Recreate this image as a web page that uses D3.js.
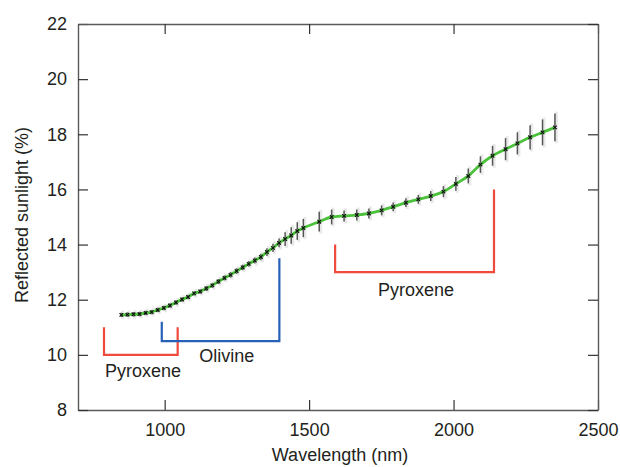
<!DOCTYPE html>
<html>
<head>
<meta charset="utf-8">
<script src="https://cdn.jsdelivr.net/npm/d3@7"></script>
<style>
  body { margin: 0; background: #fff; }
  svg text { font-family: "Liberation Sans", Arial, Helvetica, sans-serif; fill: #231f20; }
</style>
</head>
<body>
<div class="chart"></div>
<script>
// spectrum (nm, % reflected) with 1-sigma error bars
const wavelengths = [850, 871, 892, 913, 934, 955, 976, 997, 1018, 1039, 1060, 1081, 1102, 1123, 1144, 1165,
  1186, 1207, 1228, 1249, 1270, 1291, 1312, 1333, 1354, 1375, 1396, 1417, 1438, 1459, 1480,
  1535, 1578, 1621, 1665, 1707, 1751, 1791, 1835, 1878, 1921, 1965, 2008, 2051, 2093, 2135, 2180, 2221, 2265, 2308, 2351];
const reflectance = [11.45, 11.46, 11.47, 11.48, 11.52, 11.55, 11.63, 11.70, 11.79, 11.90, 12.01, 12.10, 12.23, 12.30, 12.41, 12.52,
  12.66, 12.79, 12.90, 13.04, 13.17, 13.30, 13.42, 13.55, 13.73, 13.88, 14.06, 14.20, 14.33, 14.49, 14.60,
  14.83, 15.00, 15.04, 15.07, 15.13, 15.24, 15.37, 15.52, 15.64, 15.76, 15.92, 16.20, 16.49, 16.90, 17.22, 17.46, 17.67, 17.89, 18.07, 18.25];
const errors = [0.08, 0.08, 0.08, 0.08, 0.08, 0.08, 0.08, 0.08, 0.08, 0.08, 0.08, 0.08, 0.08, 0.08, 0.09, 0.09,
  0.09, 0.09, 0.1, 0.1, 0.1, 0.1, 0.11, 0.12, 0.14, 0.15, 0.16, 0.25, 0.3, 0.32, 0.33,
  0.36, 0.27, 0.2, 0.2, 0.18, 0.18, 0.16, 0.16, 0.16, 0.18, 0.2, 0.25, 0.27, 0.3, 0.36, 0.4, 0.4, 0.44, 0.47, 0.5];

const xTicks = [1000, 1500, 2000, 2500];
const yTicks = [8, 10, 12, 14, 16, 18, 20, 22];

// absorption band brackets: [start nm, end nm, bottom %, left top %, right top %]
const bandNames = ['Pyroxene', 'Olivine', 'Pyroxene'];
const bandColors = ['#f04a3c', '#2660b8', '#f04a3c'];
const bandRanges = [[790, 1045, 10, 11, 11], [990, 1397, 10.5, 11.2, 13.5], [1590, 2140, 13, 14, 16]];
const bandLabelAt = [[925, 9.2], [1215, 9.74], [1870, 12.15]];

const width = 620, height = 467;
const margin = { top: 24, right: 22, bottom: 57, left: 78 };

const svg = d3.select('div.chart').append('svg').attr('width', width).attr('height', height);

const x = d3.scaleLinear().domain([700, 2500]).range([margin.left, width - margin.right]);
const y = d3.scaleLinear().domain([8, 22]).range([height - margin.bottom, margin.top]);

const tickLen = 10;
const frameColor = '#5a5a5a';
const fontSize = '18px';

// axes with inward ticks, mirrored on top and right
const xAxis = d3.axisBottom(x).tickValues(xTicks).tickSizeInner(-tickLen).tickSizeOuter(0).tickPadding(13).tickFormat(d3.format('d'));
const yAxis = d3.axisLeft(y).tickValues(yTicks).tickSizeInner(-tickLen).tickSizeOuter(0).tickPadding(11);

const gx = svg.append('g').attr('transform', `translate(0, ${y(8)})`).call(xAxis);
const gy = svg.append('g').attr('transform', `translate(${x(700)}, 0)`).call(yAxis);
const gxTop = svg.append('g').attr('transform', `translate(0, ${y(22)})`)
  .call(d3.axisTop(x).tickValues(xTicks).tickSizeInner(-tickLen).tickSizeOuter(0).tickFormat(''));
const gyRight = svg.append('g').attr('transform', `translate(${x(2500)}, 0)`)
  .call(d3.axisRight(y).tickValues(yTicks).tickSizeInner(-tickLen).tickSizeOuter(0).tickFormat(''));

[gx, gy, gxTop, gyRight].forEach(g => {
  g.select('.domain').attr('stroke', frameColor).attr('stroke-width', 1.4);
  g.selectAll('.tick line').attr('stroke', '#333').attr('stroke-width', 1.2);
  g.selectAll('.tick text').style('font-size', fontSize).attr('fill', '#231f20');
});
gx.selectAll('.tick text').attr('dy', '0.71em');

svg.append('text')
  .attr('x', x(1600) + 2).attr('y', 461)
  .attr('text-anchor', 'middle').style('font-size', fontSize)
  .text('Wavelength (nm)');
svg.append('text')
  .attr('transform', `translate(28, ${y(15) - 2}) rotate(-90)`)
  .attr('text-anchor', 'middle').style('font-size', fontSize)
  .text('Reflected sunlight (%)');

// band brackets
const brackets = svg.append('g');
bandRanges.forEach((b, i) => {
  const [w0, w1, base, topL, topR] = b;
  brackets.append('path')
    .attr('d', `M${x(w0)},${y(topL)}V${y(base)}H${x(w1)}V${y(topR)}`)
    .attr('fill', 'none').attr('stroke', bandColors[i]).attr('stroke-width', 2.2);
  brackets.append('text')
    .attr('x', x(bandLabelAt[i][0])).attr('y', y(bandLabelAt[i][1]))
    .attr('text-anchor', 'middle').style('font-size', fontSize)
    .text(bandNames[i]);
});

const data = wavelengths.map((w, i) => ({ w, r: reflectance[i], e: errors[i] }));

// error bars, a soft grey halo behind a darker bar
const bars = svg.append('g');
bars.selectAll('line.halo').data(data).enter().append('line').classed('halo', true)
  .attr('x1', d => x(d.w) + 1.5).attr('x2', d => x(d.w) + 1.5)
  .attr('y1', d => y(d.r + d.e) - 2).attr('y2', d => y(d.r - d.e) + 2)
  .attr('stroke', '#d4d4d4').attr('stroke-width', 3).attr('opacity', 0.5);
bars.selectAll('line.err').data(data).enter().append('line').classed('err', true)
  .attr('x1', d => x(d.w)).attr('x2', d => x(d.w))
  .attr('y1', d => y(d.r + d.e)).attr('y2', d => y(d.r - d.e))
  .attr('stroke', '#555').attr('stroke-width', 1.5);

const line = d3.line().x(d => x(d.w)).y(d => y(d.r)).curve(d3.curveMonotoneX);
svg.append('path').datum(data)
  .attr('d', line)
  .attr('fill', 'none').attr('stroke', '#4cc23c').attr('stroke-width', 2.8);

// small x markers
const s = 1.8;
svg.append('g').selectAll('path.pt').data(data).enter().append('path').classed('pt', true)
  .attr('d', d => `M${x(d.w) - s},${y(d.r) - s}L${x(d.w) + s},${y(d.r) + s}M${x(d.w) - s},${y(d.r) + s}L${x(d.w) + s},${y(d.r) - s}`)
  .attr('stroke', '#111').attr('stroke-width', 1.2);
</script>
</body>
</html>
